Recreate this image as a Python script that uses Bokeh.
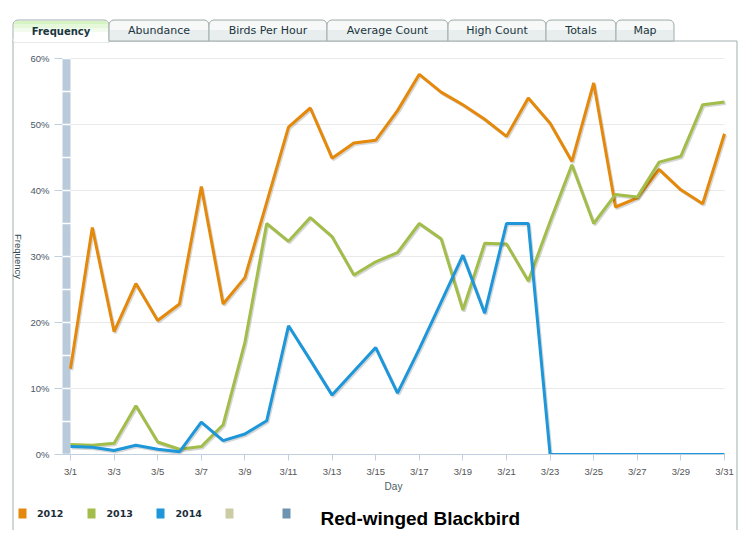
import math
from bokeh.plotting import figure
from bokeh.models import (Range1d, FixedTicker, PrintfTickFormatter, Label,
                          BoxAnnotation, ColumnDataSource, LinearAxis)
from bokeh.transform import dodge
from bokeh.embed import file_html
from bokeh.resources import INLINE

# ---------------- data ----------------
days = list(range(1, 32))
x_tick_days = list(range(1, 32, 2))
x_tick_labels = ["3/%d" % d for d in x_tick_days]
y_ticks = [0, 10, 20, 30, 40, 50, 60]

freq_2012 = [13.0, 34.4, 18.6, 25.9, 20.3, 22.8, 40.6, 22.8, 26.8, 38.2,
             49.6, 52.5, 44.9, 47.2, 47.6, 52.1, 57.6, 54.9, 53.0, 50.8,
             48.2, 54.0, 50.2, 44.4, 56.3, 37.5, 38.9, 43.2, 40.1, 38.0, 48.6]
freq_2013 = [1.5, 1.4, 1.7, 7.4, 1.9, 0.8, 1.2, 4.5, 17.0, 35.0,
             32.3, 35.9, 33.0, 27.2, 29.2, 30.6, 35.0, 32.7, 21.9, 32.0,
             31.9, 26.3, 35.3, 43.9, 35.0, 39.4, 39.0, 44.3, 45.2, 53.0, 53.4]
freq_2014 = [1.2, 1.1, 0.6, 1.4, 0.8, 0.4, 4.9, 2.1, 3.1, 5.1,
             19.5, 14.3, 9.0, 12.6, 16.2, 9.3, 16.0, 23.1, 30.2, 21.4,
             35.0, 35.0, 0.0, 0.0, 0.0, 0.0, 0.0, 0.0, 0.0, 0.0, 0.0]

years = ["2012", "2013", "2014"]
series = [freq_2012, freq_2013, freq_2014]
series_colors = ["#e4890b", "#a2bd4a", "#1d97da"]
extra_legend_colors = ["#cbcba4", "#6c93b0"]
tab_labels = ["Frequency", "Abundance", "Birds Per Hour", "Average Count",
              "High Count", "Totals", "Map"]
species = "Red-winged Blackbird"

# ---------------- layout (canvas px, y down) ----------------
W, H = 748, 530
AXIS_X = 62          # y axis / band left edge
FIRST_DAY_X = 70     # 3/1
LAST_DAY_X = 724     # 3/31
ZERO_Y, TOP_Y = 454, 58
px_per_day = (LAST_DAY_X - FIRST_DAY_X) / (days[-1] - days[0])
px_per_pct = (ZERO_Y - TOP_Y) / (y_ticks[-1] - y_ticks[0])


def day_at(px):
    return days[0] + (px - FIRST_DAY_X) / px_per_day


def pct_at(py):
    return y_ticks[0] + (ZERO_Y - py) / px_per_pct


band_left = day_at(AXIS_X)

p = figure(width=W, height=H, output_backend="svg", toolbar_location=None,
           x_range=Range1d(day_at(0), day_at(W)), y_range=Range1d(pct_at(H), pct_at(0)),
           x_axis_location=None, y_axis_location=None,
           min_border=0, min_border_left=0, min_border_right=0,
           min_border_top=0, min_border_bottom=0)
p.title.visible = False
p.outline_line_color = None
p.background_fill_color = "white"
p.border_fill_color = "white"
p.xgrid.visible = False
p.ygrid.visible = False

# axes drawn at fixed data locations
xaxis = LinearAxis(fixed_location=y_ticks[0], bounds=(band_left, days[-1]))
xaxis.ticker = FixedTicker(ticks=x_tick_days)
xaxis.major_label_overrides = {d: l for d, l in zip(x_tick_days, x_tick_labels)}
xaxis.axis_line_color = "#c0d0e0"
xaxis.major_tick_line_color = "#c0d0e0"
xaxis.major_tick_out = 6
xaxis.major_tick_in = 0
xaxis.minor_tick_line_color = None
xaxis.major_label_text_font = "Liberation Sans"
xaxis.major_label_text_font_size = "9.5px"
xaxis.major_label_text_color = "#555555"
xaxis.major_label_standoff = 5
xaxis.axis_label = "Day"
xaxis.axis_label_text_font = "Liberation Sans"
xaxis.axis_label_text_font_style = "normal"
xaxis.axis_label_text_font_size = "10px"
xaxis.axis_label_text_color = "#4d5d66"
xaxis.axis_label_standoff = 1
p.add_layout(xaxis, "below")

yaxis = LinearAxis(fixed_location=band_left, bounds=(y_ticks[0], y_ticks[-1]))
yaxis.ticker = FixedTicker(ticks=y_ticks)
yaxis.formatter = PrintfTickFormatter(format="%d%%")
yaxis.axis_line_color = None
yaxis.major_tick_line_color = "#c0d0e0"
yaxis.major_tick_out = 8
yaxis.major_tick_in = 0
yaxis.minor_tick_line_color = None
yaxis.major_label_text_font = "Liberation Sans"
yaxis.major_label_text_font_size = "9.5px"
yaxis.major_label_text_color = "#4a5866"
yaxis.major_label_standoff = 5
p.add_layout(yaxis, "left")

# horizontal grid lines from the tick list
grid_y = y_ticks[1:]
p.segment(x0=[days[0]] * len(grid_y), x1=[days[-1]] * len(grid_y), y0=grid_y, y1=grid_y,
          line_color="#e9e9e9", line_width=1, level="underlay")


def sx(x):
    return x


def sy(y):
    return H - y


def box(l, r, t, b, fill=None, line=None, lw=1, radius=0, level="annotation"):
    kw = dict(left=sx(l), right=sx(r), top=sy(t), bottom=sy(b),
              left_units="screen", right_units="screen",
              top_units="screen", bottom_units="screen",
              fill_color=fill, fill_alpha=1.0,
              line_color=line, line_alpha=1.0, line_width=lw, level=level)
    if radius:
        kw["border_radius"] = (radius, radius, 0, 0)
    return BoxAnnotation(**kw)


def label(x, y, text, size, color, font="DejaVu Sans", style="normal",
          align="left", baseline="middle", angle=0):
    return Label(x=sx(x), y=sy(y), x_units="screen", y_units="screen", text=text,
                 text_font=font, text_font_size=size, text_color=color,
                 text_font_style=style, text_align=align, text_baseline=baseline,
                 angle=angle)


# outer panel border
p.add_layout(box(12.5, 736.5, 40.5, H + 20, fill=None, line="#a3adad", level="underlay"))

# left band (5% segments)
band_steps = list(range(y_ticks[0], y_ticks[-1], 5))
for k in band_steps:
    p.add_layout(BoxAnnotation(left=band_left, right=days[0], bottom=k + 0.12, top=k + 5 - 0.12,
                               fill_color="#b9cadb", fill_alpha=1.0, line_color=None,
                               level="underlay"))

# series lines with soft shadow
for vals, col in zip(series, series_colors):
    src = ColumnDataSource(dict(day=days, v=vals))
    p.line(x=dodge("day", 1.2 / px_per_day), y=dodge("v", -1.5 / px_per_pct), source=src,
           line_color="#000000", line_alpha=0.16, line_width=3)
    p.line(x="day", y="v", source=src, line_color=col, line_width=3)

# plot area clips below the zero line
p.add_layout(BoxAnnotation(left=band_left, right=day_at(LAST_DAY_X + 4),
                           top=y_ticks[0], bottom=pct_at(ZERO_Y + 4),
                           fill_color="white", fill_alpha=1.0, line_color=None,
                           level="glyph"))

# y axis title
p.add_layout(label(18, 256, "Frequency", "9.5px", "#33494f", font="Liberation Sans",
                   align="center", angle=-math.pi / 2))

# legend
LEG_T, LEG_B = 508, 518
sq_left = [18, 87, 156, 225, 282]
txt_left = [36.5, 106, 175]
leg_colors = series_colors + extra_legend_colors
for i, c in enumerate(leg_colors):
    p.add_layout(box(sq_left[i], sq_left[i] + 8, LEG_T, LEG_B, fill=c))
for i, y in enumerate(years):
    p.add_layout(label(txt_left[i], 512.5, y, "9.5px", "#1c2e38", style="bold"))

p.add_layout(label(320, 518, species, "19px", "#000000", font="Liberation Sans",
                   style="bold", baseline="alphabetic"))

# tabs
tab_edges = [12.5, 108.5, 208.5, 326.5, 447.5, 545.5, 615.5, 673.5]
TAB_T, TAB_B = 19.5, 40.5
for i, name in enumerate(tab_labels):
    l, r = tab_edges[i], tab_edges[i + 1]
    if i == 0:
        p.add_layout(box(l, r, TAB_T, TAB_B + 1, fill="white", line="#a3adad", radius=5))
        p.add_layout(box(l + 1, r - 1, TAB_T + 1, TAB_T + 4, fill="#d6f3c3", radius=4))
        p.add_layout(box(l + 1, r - 1, TAB_T + 4, TAB_T + 8, fill="#e6f8da"))
        p.add_layout(box(l + 1, r - 1, TAB_T + 8, TAB_T + 12, fill="#f3fbee"))
        p.add_layout(box(l + 0.5, r - 0.5, TAB_B - 2, TAB_B + 1.5, fill="white"))
        p.add_layout(label((l + r) / 2, 30.5, name, "10px", "#1a3640",
                           style="bold", align="center"))
    else:
        p.add_layout(box(l, r, TAB_T, TAB_B, fill="#e8eded", line="#a3adad", radius=5))
        p.add_layout(box(l + 1, r - 1, TAB_T + 1, TAB_T + 10, fill="#f7f9f9", radius=4))
        p.add_layout(label((l + r) / 2, 29.5, name, "11px", "#1a3640", align="center"))

open("out.html", "w").write(file_html(p, INLINE))
